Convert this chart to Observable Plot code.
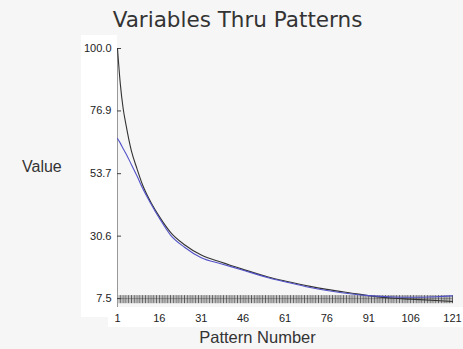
<!DOCTYPE html>
<html><head><meta charset="utf-8">
<script src="https://cdn.jsdelivr.net/npm/d3@7"></script>
<script src="https://cdn.jsdelivr.net/npm/@observablehq/plot@0.6"></script>
<style>
html,body{margin:0;padding:0;}
body{width:463px;height:349px;background:#f6f6f6;position:relative;overflow:hidden;font-family:"Liberation Sans",Arial,sans-serif;}
.wb{position:absolute;background:#ffffff;}
#title{position:absolute;left:0;top:0;width:475px;height:38px;line-height:40px;text-align:center;font-family:"DejaVu Sans",sans-serif;font-size:21.5px;color:#333;}
#ylab{position:absolute;left:22px;top:158px;font-size:16px;color:#333;}
#xlab{position:absolute;left:0;top:328px;width:515px;text-align:center;font-size:16.5px;color:#333;}
#chart{position:absolute;left:0;top:38px;}
</style></head><body>
<div id="title">Variables Thru Patterns</div>
<div class="wb" style="left:81px;top:35px;width:36px;height:282px"></div>
<div class="wb" style="left:108px;top:307px;width:355px;height:20px"></div>
<div id="ylab">Value</div>
<div id="chart"></div>
<div id="xlab">Pattern Number</div>
<script>
const patterns    = [1, 2, 3, 4, 6, 8, 10, 13, 16, 20, 25, 31, 38, 46, 55, 61, 70, 76, 85, 91, 100, 106, 115, 121];
const blackValues = [100, 87, 78, 72, 62, 55.5, 49.5, 43, 37.8, 32, 27.4, 23.6, 21, 18.3, 15.5, 14, 12, 10.9, 9.5, 8.6, 7.6, 7.3, 6.8, 6.4];
const blueValues  = [66.7, 65, 63, 61.2, 57, 52.8, 48.3, 42.5, 37.2, 31, 26.5, 22.6, 20.4, 18, 15.2, 13.7, 11.6, 10.5, 9.2, 8.6, 8.1, 8.0, 8.2, 8.5];
const xTicks = [1, 16, 31, 46, 61, 76, 91, 106, 121];
const yTicks = [7.5, 30.6, 53.7, 76.9, 100.0];
const rugPatterns = d3.range(1, 122);
const rugHalf = d3.range(1.5, 121, 1);
const yBottom = 4.2, rugLow = 5.6, rugHigh = 8.6, baseLine = 7.5, tickEnd = 2.45;

const black = patterns.map((p, i) => ({pattern: p, value: blackValues[i]}));
const blue  = patterns.map((p, i) => ({pattern: p, value: blueValues[i]}));

const chart = Plot.plot({
  width: 463, height: 311,
  marginTop: 10, marginBottom: 42, marginLeft: 117, marginRight: 11,
  style: {background: "transparent", fontFamily: "Liberation Sans, Arial, sans-serif", fontSize: "11px", color: "#222"},
  x: {domain: [1, 121]},
  y: {domain: [yBottom, 100]},
  marks: [
    Plot.ruleY([baseLine], {x1: 1, x2: 121, stroke: "#aaa"}),
    Plot.ruleX(rugHalf, {x: d => d, y1: rugLow, y2: rugHigh, stroke: "#666", strokeWidth: 1, strokeOpacity: 0.5}),
    Plot.ruleX(rugPatterns, {x: d => d, y1: rugLow, y2: rugHigh, stroke: "#333", strokeWidth: 1, strokeOpacity: 0.8}),
    Plot.ruleX([1], {y1: yBottom, y2: 100, stroke: "#999"}),
    Plot.ruleY(yTicks, {x1: 1, x2: tickEnd, stroke: "#444"}),
    Plot.axisY({ticks: yTicks, tickFormat: d => d.toFixed(1), tickSize: 0, tickPadding: 6, label: null}),
    Plot.axisX({ticks: xTicks, tickSize: 0, tickPadding: 7, label: null}),
    Plot.line(black, {x: "pattern", y: "value", stroke: "#333", strokeWidth: 1.1, curve: "monotone-x"}),
    Plot.line(blue, {x: "pattern", y: "value", stroke: "#5252c8", strokeWidth: 1.1, curve: "monotone-x"})
  ]
});
document.getElementById("chart").appendChild(chart);
</script>
</body></html>
